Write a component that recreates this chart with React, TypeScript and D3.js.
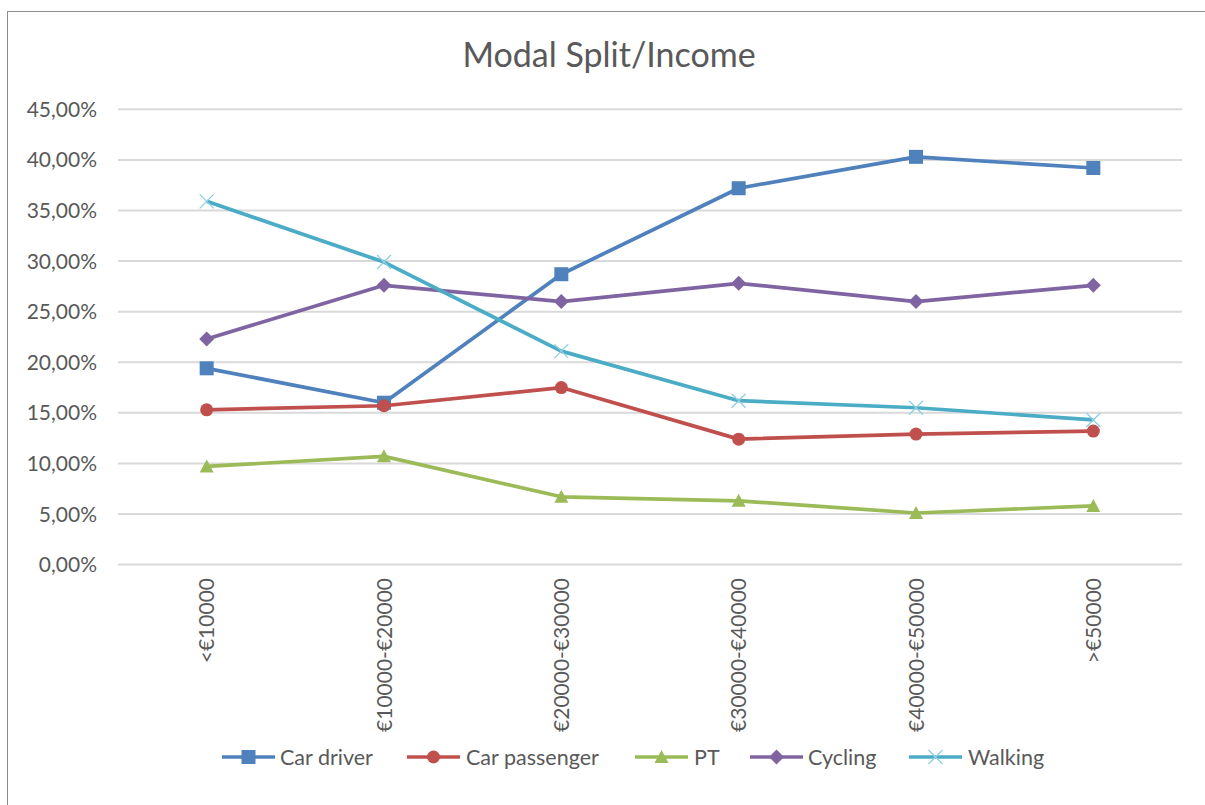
import React from "react";
import * as d3 from "d3";

const categories = ["<€10000", "€10000-€20000", "€20000-€30000", "€30000-€40000", "€40000-€50000", ">€50000"];
const carDriver = [19.4, 16.0, 28.7, 37.2, 40.3, 39.2];
const carPassenger = [15.3, 15.7, 17.5, 12.4, 12.9, 13.2];
const pt = [9.7, 10.7, 6.7, 6.3, 5.1, 5.8];
const cycling = [22.3, 27.6, 26.0, 27.8, 26.0, 27.6];
const walking = [35.9, 29.9, 21.1, 16.2, 15.5, 14.3];
const yTicks = [0, 5, 10, 15, 20, 25, 30, 35, 40, 45];
const seriesNames = ["Car driver", "Car passenger", "PT", "Cycling", "Walking"];
const seriesValues = [carDriver, carPassenger, pt, cycling, walking];
const colors = ["#4f81bd", "#c0504d", "#9bbb59", "#8064a2", "#4bacc6"];
const markers = ["square", "circle", "triangle", "diamond", "x"];

const FONT = "Lato, 'Open Sans', sans-serif";
const TEXT = "#595959";

function Marker({ type, x, y, color }: { type: string; x: number; y: number; color: string }) {
  const s = 7;
  if (type === "square") return <rect x={x - s} y={y - s} width={2 * s} height={2 * s} fill={color} />;
  if (type === "circle") return <circle cx={x} cy={y} r={6.5} fill={color} />;
  if (type === "triangle")
    return <path d={`M${x},${y - 7} L${x + 7},${y + 6} L${x - 7},${y + 6} Z`} fill={color} />;
  if (type === "diamond")
    return <path d={`M${x},${y - 7.5} L${x + 7.5},${y} L${x},${y + 7.5} L${x - 7.5},${y} Z`} fill={color} />;
  return (
    <path
      d={`M${x - 7},${y - 7} L${x + 7},${y + 7} M${x - 7},${y + 7} L${x + 7},${y - 7}`}
      stroke="#8fd0e2"
      strokeWidth={1.3}
      fill="none"
    />
  );
}

export default function App() {
  const W = 1205, H = 805;
  const x0 = 118, x1 = 1182;
  const y = d3.scaleLinear().domain([0, 45]).range([564.6, 109.3]);
  const x = d3.scaleBand().domain(categories).range([x0, x1]);
  const cx = (c: string) => (x(c) as number) + x.bandwidth() / 2;
  const line = d3
    .line<number>()
    .x((_, i) => cx(categories[i]))
    .y((v) => y(v));

  const legendItems = [
    { lx: 222, tx: 280 },
    { lx: 407, tx: 466 },
    { lx: 635, tx: 694 },
    { lx: 750, tx: 808 },
    { lx: 909, tx: 968 },
  ];
  const ly = 757;

  return (
    <svg width={W} height={H} style={{ position: "absolute", left: 0, top: 0 }} fontFamily={FONT}>
      <rect x={0} y={0} width={W} height={H} fill="#fff" />
      <rect x={7.5} y={11.5} width={1220} height={820} fill="none" stroke="#8c8c8c" strokeWidth={1} />
      <text x={609} y={67} textAnchor="middle" fontSize={34} fill={TEXT}>
        Modal Split/Income
      </text>
      {yTicks.map((t) => (
        <g key={t}>
          <line x1={x0} x2={x1} y1={y(t)} y2={y(t)} stroke="#d9d9d9" strokeWidth={2} />
          <text x={97} y={y(t)} dy="0.36em" textAnchor="end" fontSize={21} fill={TEXT}>
            {t.toFixed(2).replace(".", ",")}%
          </text>
        </g>
      ))}
      {categories.map((c) => (
        <text
          key={c}
          transform={`translate(${cx(c)},578) rotate(-90)`}
          dy="0.36em"
          textAnchor="end"
          fontSize={21}
          fill={TEXT}
        >
          {c}
        </text>
      ))}
      {seriesValues.map((vals, si) => (
        <g key={seriesNames[si]}>
          <path d={line(vals) || ""} fill="none" stroke={colors[si]} strokeWidth={3.7} strokeLinejoin="round" />
          {vals.map((v, i) => (
            <Marker key={i} type={markers[si]} x={cx(categories[i])} y={y(v)} color={colors[si]} />
          ))}
        </g>
      ))}
      {seriesNames.map((n, si) => (
        <g key={n}>
          <line
            x1={legendItems[si].lx}
            x2={legendItems[si].lx + 53}
            y1={ly}
            y2={ly}
            stroke={colors[si]}
            strokeWidth={3.7}
          />
          <Marker type={markers[si]} x={legendItems[si].lx + 26.5} y={ly} color={colors[si]} />
          <text x={legendItems[si].tx} y={ly} dy="0.36em" fontSize={21.5} fill={TEXT}>
            {n}
          </text>
        </g>
      ))}
    </svg>
  );
}
